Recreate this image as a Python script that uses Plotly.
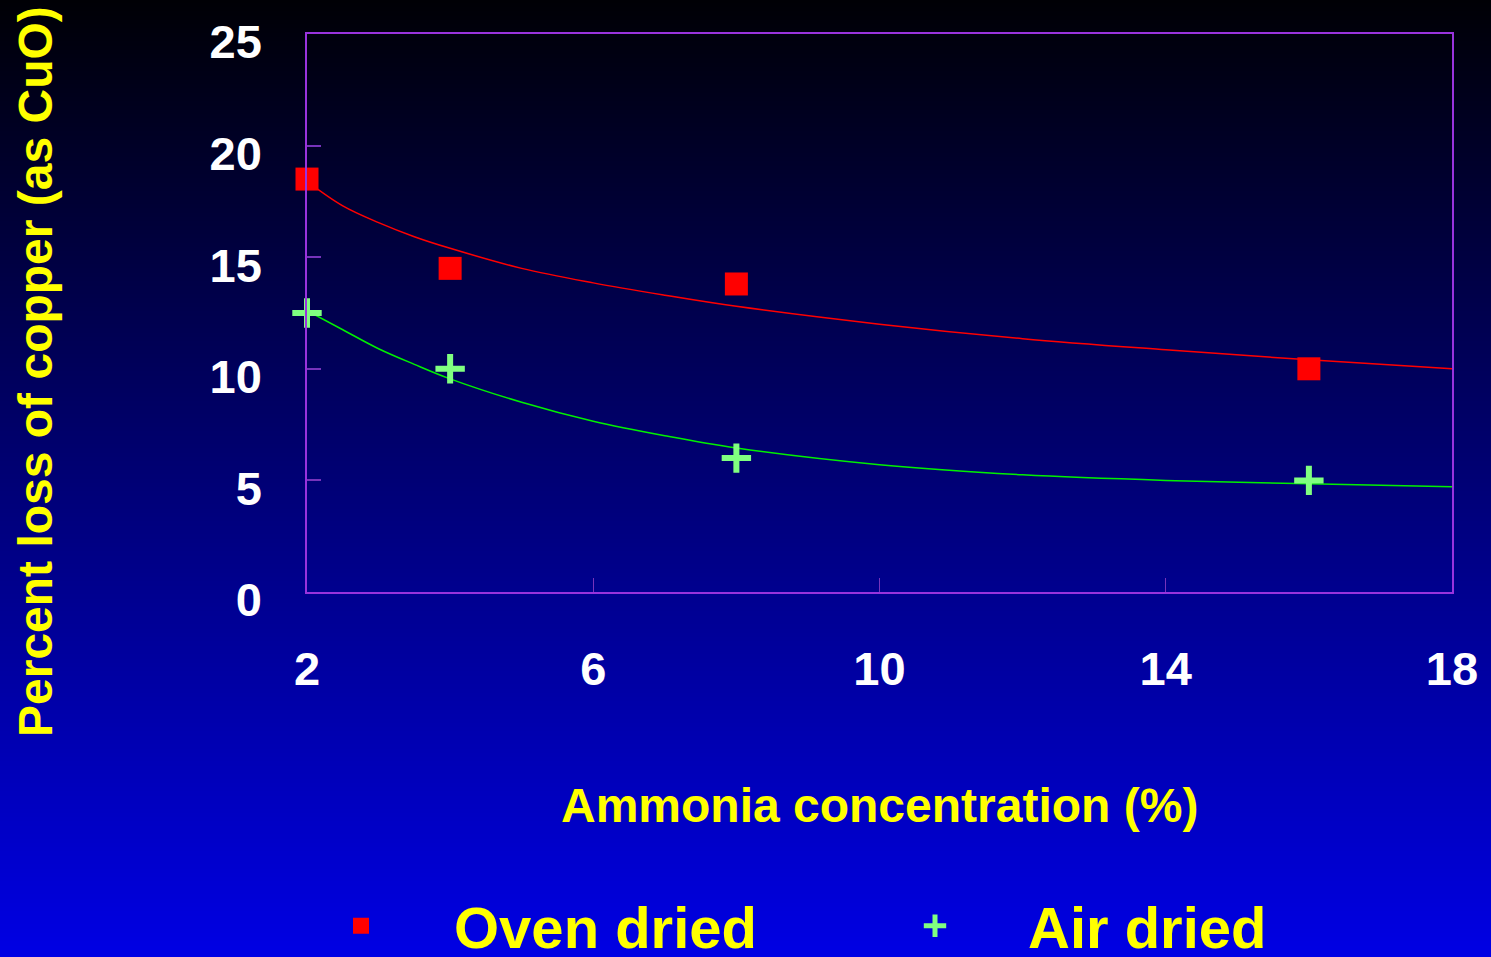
import base64
import struct
import zlib

import plotly.graph_objects as go

# measured points
ammonia = [2, 4, 8, 16]
oven_dried = [18.5, 14.5, 13.8, 10.0]
air_dried = [12.5, 10.0, 6.0, 5.0]

# fitted curves
fit_x = [2, 2.5, 3, 3.5, 4, 5, 6, 7, 8, 10, 12, 14, 16, 18]
oven_fit = [18.4, 17.3, 16.55, 15.92, 15.4, 14.5, 13.85, 13.3, 12.8, 12.0, 11.35, 10.85, 10.4, 10.0]
air_fit = [12.6, 11.75, 10.9, 10.2, 9.55, 8.5, 7.65, 7.0, 6.45, 5.7, 5.25, 5.0, 4.85, 4.72]

x_ticks = [2, 6, 10, 14, 18]
y_ticks = [0, 5, 10, 15, 20, 25]

W, H = 1491, 957
L, R, T, B = 307, 39, 34, 365
PW, PH = W - L - R, H - T - B

FONT = "Liberation Sans, Arial, sans-serif"
AXIS_COL = "#9933DD"
TICK_COL = "#7733BB"


def gradient_png(h, top, bottom, w=2):
    raw = b""
    for i in range(h):
        t = i / (h - 1)
        px = bytes(int(round(top[k] + (bottom[k] - top[k]) * t)) for k in range(3))
        raw += b"\x00" + px * w

    def chunk(tag, data):
        return (struct.pack(">I", len(data)) + tag + data
                + struct.pack(">I", zlib.crc32(tag + data) & 0xFFFFFFFF))

    png = b"\x89PNG\r\n\x1a\n"
    png += chunk(b"IHDR", struct.pack(">IIBBBBB", w, h, 8, 2, 0, 0, 0))
    png += chunk(b"IDAT", zlib.compress(raw, 9))
    png += chunk(b"IEND", b"")
    return "data:image/png;base64," + base64.b64encode(png).decode()


fig = go.Figure()

fig.add_trace(go.Scatter(x=fit_x, y=oven_fit, mode="lines", line=dict(color="#FF0000", width=1.5, shape="spline"),
                         showlegend=False, hoverinfo="skip"))
fig.add_trace(go.Scatter(x=fit_x, y=air_fit, mode="lines", line=dict(color="#00F000", width=1.5, shape="spline"),
                         showlegend=False, hoverinfo="skip"))
fig.add_trace(go.Scatter(x=ammonia, y=oven_dried, mode="markers", name="Oven dried", cliponaxis=False,
                         marker=dict(symbol="square", size=23, color="#FF0000")))
fig.add_trace(go.Scatter(x=ammonia, y=air_dried, mode="markers", name="Air dried", cliponaxis=False,
                         marker=dict(symbol="cross-thin", size=21, color="#80FF80",
                                     line=dict(color="#80FF80", width=6))))

fig.update_layout(
    width=W, height=H,
    margin=dict(l=L, r=R, t=T, b=B, autoexpand=False),
    paper_bgcolor="#000005",
    plot_bgcolor="rgba(0,0,0,0)",
    font=dict(family=FONT, color="white"),
    images=[dict(source=gradient_png(H, (0, 0, 5), (0, 0, 228)),
                 xref="paper", yref="paper", x=-L / PW, y=1 + T / PH,
                 sizex=W / PW, sizey=H / PH, sizing="stretch",
                 xanchor="left", yanchor="top", layer="below")],
    xaxis=dict(range=[2, 18], tickvals=x_ticks, ticks="inside", ticklen=14, tickwidth=1,
               tickcolor=TICK_COL, showline=True, linecolor=AXIS_COL, linewidth=1.5, mirror=True,
               showgrid=False, zeroline=False, ticklabelstandoff=35,
               tickfont=dict(size=47, color="white", family=FONT, weight="bold")),
    yaxis=dict(range=[0, 25], tickvals=y_ticks, ticks="inside", ticklen=14, tickwidth=1.5,
               tickcolor=TICK_COL, showline=True, linecolor=AXIS_COL, linewidth=1.5, mirror=True,
               showgrid=False, zeroline=False, ticklabelstandoff=34, ticklabelshift=8,
               tickfont=dict(size=47, color="white", family=FONT, weight="bold")),
    legend=dict(orientation="h", x=(268 - L) / PW, xanchor="left",
                y=(H - B - 926) / PH, yanchor="middle",
                itemwidth=176, entrywidth=383, bgcolor="rgba(0,0,0,0)",
                font=dict(size=58, color="#FFFF00", family=FONT, weight="bold")),
    annotations=[
        dict(text="Percent loss of copper (as CuO)", textangle=-90, showarrow=False,
             xref="paper", yref="paper", x=(35 - L) / PW, y=(H - B - 372) / PH,
             xanchor="center", yanchor="middle",
             font=dict(size=48, color="#FFFF00", family=FONT, weight="bold")),
        dict(text="Ammonia concentration (%)", showarrow=False,
             xref="paper", yref="paper", x=0.5, y=(H - B - 805) / PH,
             xanchor="center", yanchor="middle",
             font=dict(size=48, color="#FFFF00", family=FONT, weight="bold")),
    ],
)

fig.write_html("out.html", config={"displayModeBar": False},
               post_script="document.body.style.margin='0';")
